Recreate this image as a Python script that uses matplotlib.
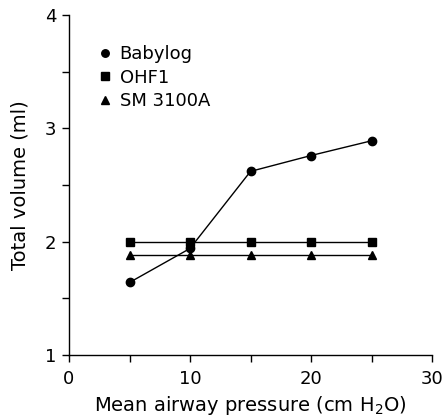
import matplotlib
matplotlib.use("Agg")
import matplotlib.pyplot as plt
from matplotlib.ticker import MultipleLocator

plt.rcParams['font.family'] = ['DejaVu Sans']
plt.rcParams['mathtext.fontset'] = 'dejavusans'

pressure = [5, 10, 15, 20, 25]
babylog = [1.64, 1.94, 2.62, 2.76, 2.89]
ohf1 = [2.0, 2.0, 2.0, 2.0, 2.0]
sm3100a = [1.88, 1.88, 1.88, 1.88, 1.88]
series = [("Babylog", babylog, "o"), ("OHF1", ohf1, "s"), ("SM 3100A", sm3100a, "^")]

fig = plt.figure(figsize=(4.44, 4.16), dpi=100)
ax = fig.add_axes([0.1554, 0.1466, 0.973 - 0.1554, 0.964 - 0.1466])

for name, vals, m in series:
    ax.plot(pressure, vals, color='black', lw=1.0, marker=m, markersize=6, label=name)

ax.set_xlim(0, 30)
ax.set_ylim(1, 4)
ax.xaxis.set_major_locator(MultipleLocator(10))
ax.xaxis.set_minor_locator(MultipleLocator(5))
ax.yaxis.set_major_locator(MultipleLocator(1))
ax.yaxis.set_minor_locator(MultipleLocator(0.5))
for s in ['top', 'right']:
    ax.spines[s].set_visible(False)
for s in ['left', 'bottom']:
    ax.spines[s].set_linewidth(1.0)
ax.tick_params(which='both', direction='out', width=1.0, length=5, labelsize=13)
ax.tick_params(axis='x', pad=6)
ax.tick_params(axis='y', pad=4)
ax.set_xlabel("Mean airway pressure (cm H$_2$O)", fontsize=14, labelpad=4)
ax.set_ylabel("Total volume (ml)", fontsize=14, labelpad=11)

leg = ax.legend(loc='upper left', bbox_to_anchor=(0.085, 0.911), frameon=False, fontsize=13,
                handlelength=0.6, handletextpad=0.5, labelspacing=0.3, markerscale=0.9,
                borderaxespad=0, borderpad=0)
for h in leg.legend_handles:
    h.set_linestyle('None')

fig.savefig("out.png", dpi=100)
